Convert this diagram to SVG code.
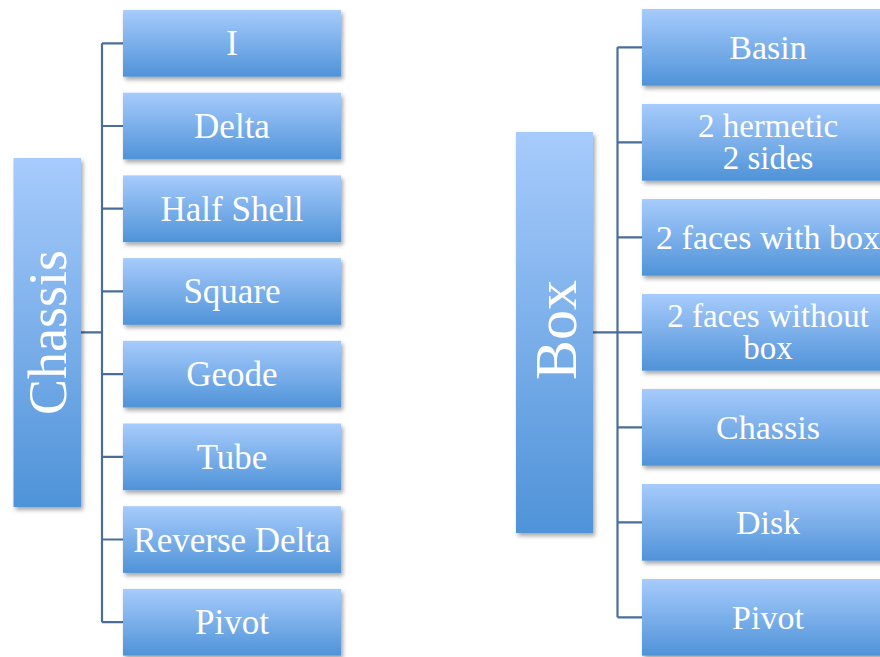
<svg xmlns="http://www.w3.org/2000/svg" width="880" height="657" viewBox="0 0 880 657">
<defs>
<linearGradient id="g" x1="0" y1="0" x2="0" y2="1">
<stop offset="0" stop-color="#a7cbfc"/>
<stop offset="1" stop-color="#4f93d8"/>
</linearGradient>
<filter id="sh" x="-10%" y="-10%" width="130%" height="140%">
<feDropShadow dx="2" dy="3" stdDeviation="2" flood-color="#000" flood-opacity="0.35"/>
</filter>
</defs>
<style>
.box{fill:url(#g);filter:url(#sh);}
.t{font-family:"Liberation Serif","Times New Roman",serif;fill:#fff;font-size:34px;text-anchor:middle;}
.l{font-size:35px;}
.two{font-size:33px;}
.root{font-size:54px;}
.rootb{font-size:60px;}
.c{fill:none;stroke:#4a6e9c;stroke-width:2.2;}
</style>
<rect width="880" height="657" fill="#fff"/>
<g id="connectors">
<path class="c" d="M81 332.3H102M102 43.3V622.2M102 43.3H123M102 126H123M102 208.7H123M102 291.4H123M102 374.1H123M102 456.8H123M102 539.5H123M102 622.2H123"/>
<path class="c" d="M593 332.3H617.5M617.5 47.3V617.3M617.5 47.3H642M617.5 142.3H642M617.5 237.3H642M617.5 332.3H642M617.5 427.3H642M617.5 522.3H642M617.5 617.3H642"/>
</g>
<g id="chassis-root">
<rect class="box" x="13.5" y="158" width="67.5" height="349"/>
<text class="t root" transform="translate(66 332.5) rotate(-90)">Chassis</text>
</g>
<g id="c-i"><rect class="box" x="123" y="10" width="218" height="66.7"/><text class="t l" x="232" y="55.3">I</text></g>
<g id="c-delta"><rect class="box" x="123" y="92.7" width="218" height="66.7"/><text class="t l" x="232" y="138">Delta</text></g>
<g id="c-halfshell"><rect class="box" x="123" y="175.4" width="218" height="66.7"/><text class="t l" x="232" y="220.7">Half Shell</text></g>
<g id="c-square"><rect class="box" x="123" y="258.1" width="218" height="66.7"/><text class="t l" x="232" y="303.4">Square</text></g>
<g id="c-geode"><rect class="box" x="123" y="340.8" width="218" height="66.7"/><text class="t l" x="232" y="386.1">Geode</text></g>
<g id="c-tube"><rect class="box" x="123" y="423.5" width="218" height="66.7"/><text class="t l" x="232" y="468.8">Tube</text></g>
<g id="c-revdelta"><rect class="box" x="123" y="506.2" width="218" height="66.7"/><text class="t l" x="232" y="551.5">Reverse Delta</text></g>
<g id="c-pivot"><rect class="box" x="123" y="588.9" width="218" height="66.7"/><text class="t l" x="232" y="634.2">Pivot</text></g>
<g id="box-root">
<rect class="box" x="516" y="132" width="77" height="401"/>
<text class="t rootb" transform="translate(576 330) rotate(-90)">Box</text>
</g>
<g id="b-basin"><rect class="box" x="642" y="9" width="252" height="76.7"/><text class="t" x="768" y="59.3">Basin</text></g>
<g id="b-hermetic"><rect class="box" x="642" y="104" width="252" height="76.7"/><text class="t two" x="768" y="136.5">2 hermetic</text><text class="t two" x="768" y="168.5">2 sides</text></g>
<g id="b-faceswith"><rect class="box" x="642" y="199" width="252" height="76.7"/><text class="t" x="768" y="248.5">2 faces with box</text></g>
<g id="b-faceswithout"><rect class="box" x="642" y="294" width="252" height="76.7"/><text class="t two" x="768" y="326.5">2 faces without</text><text class="t two" x="768" y="358.5">box</text></g>
<g id="b-chassis"><rect class="box" x="642" y="389" width="252" height="76.7"/><text class="t" x="768" y="439.3">Chassis</text></g>
<g id="b-disk"><rect class="box" x="642" y="484" width="252" height="76.7"/><text class="t" x="768" y="534.3">Disk</text></g>
<g id="b-pivot"><rect class="box" x="642" y="579" width="252" height="76.7"/><text class="t" x="768" y="629.3">Pivot</text></g>
</svg>
